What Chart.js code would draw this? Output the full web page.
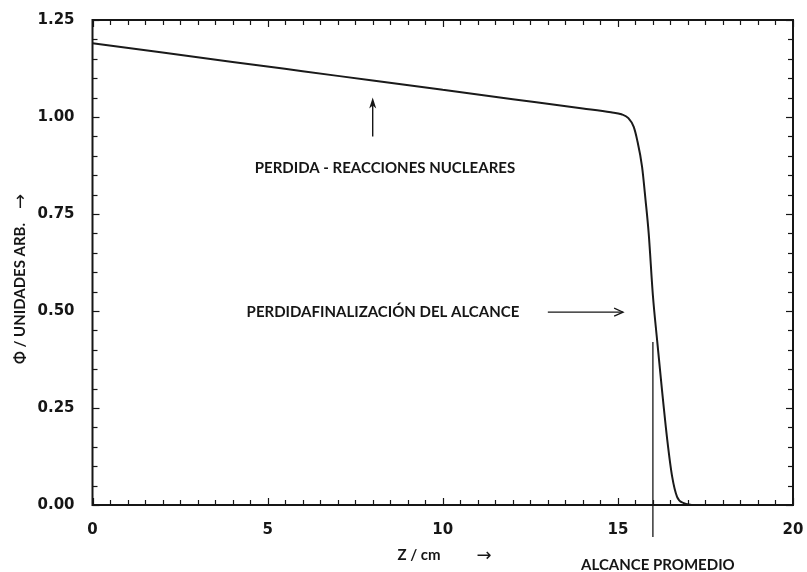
<!DOCTYPE html>
<html>
<head>
<meta charset="utf-8">
<script src="https://cdn.jsdelivr.net/npm/chart.js@4/dist/chart.umd.min.js"></script>
<style>
  html, body { margin: 0; padding: 0; background: #fff; }
  canvas { display: block; }
</style>
</head>
<body>
<canvas id="c" width="807" height="572"></canvas>
<script>
// Relative fluence of a proton beam versus depth in water
const depthCm = [0, 2, 4, 6, 8, 10, 12, 14, 14.8, 15.1, 15.3, 15.45, 15.55, 15.69, 15.79, 15.88, 16.0, 16.12, 16.26, 16.41, 16.55, 16.69, 16.88, 17.1];
const fluence = [1.19, 1.166, 1.142, 1.118, 1.094, 1.07, 1.046, 1.022, 1.012, 1.007, 0.997, 0.975, 0.941, 0.872, 0.786, 0.70, 0.54, 0.425, 0.296, 0.168, 0.073, 0.021, 0.005, 0];

const xTickValues = [0, 5, 10, 15, 20];
const yTickLabels = ['0.00', '0.25', '0.50', '0.75', '1.00', '1.25'];

// Mean range marker (depth, top of the marker line)
const meanRangeDepth = 16.0;
const meanRangeTop = 0.42;

// Annotation anchors in data coordinates
const nuclearArrow = { z: 8.0, from: 0.95, to: 1.05 };
const nuclearLabel = { z: 8.35, phi: 0.868, text: 'PERDIDA - REACCIONES NUCLEARES' };
const endArrow = { phi: 0.497, from: 13.0, to: 15.15 };
const endLabel = { z: 4.4, phi: 0.497, text: 'PERDIDAFINALIZACIÓN DEL ALCANCE' };
const rangeLabel = 'ALCANCE PROMEDIO';
const xTitle = 'Z / cm';
const yTitle = 'Φ / UNIDADES ARB.';

const points = depthCm.map((z, i) => ({ x: z, y: fluence[i] }));

const LABEL_FONT = 'bold 15px Lato, "Open Sans", sans-serif';
const INK = '#161616';

function line(ctx, x1, y1, x2, y2) {
  ctx.beginPath(); ctx.moveTo(x1, y1); ctx.lineTo(x2, y2); ctx.stroke();
}

function noScalePadding(s) {
  s.paddingTop = 0; s.paddingBottom = 0; s.paddingLeft = 0; s.paddingRight = 0;
}

const framePlugin = {
  id: 'frame',
  afterDraw(chart) {
    const { ctx, chartArea: a, scales: { x, y } } = chart;
    ctx.save();
    ctx.strokeStyle = INK;
    ctx.fillStyle = INK;

    // plot box
    ctx.lineWidth = 2;
    ctx.strokeRect(a.left, a.top, a.right - a.left, a.bottom - a.top);

    // inward ticks on all four sides
    ctx.lineWidth = 1.2;
    for (let i = 0; i <= 40; i++) {
      const v = i * 0.5;
      const px = Math.round(x.getPixelForValue(v)) + 0.5;
      const len = i % 10 === 0 ? 7 : 5;
      line(ctx, px, a.bottom, px, a.bottom - len);
      line(ctx, px, a.top, px, a.top + len);
    }
    for (let i = 0; i <= 25; i++) {
      const v = i * 0.05;
      const py = Math.round(y.getPixelForValue(v)) + 0.5;
      const len = i % 5 === 0 ? 7 : 5;
      line(ctx, a.left, py, a.left + len, py);
      line(ctx, a.right, py, a.right - len, py);
    }

    // mean range marker, running below the axis
    ctx.lineWidth = 1.3;
    const mx = x.getPixelForValue(meanRangeDepth);
    line(ctx, mx, y.getPixelForValue(meanRangeTop), mx, a.bottom + 32);

    // arrow to the sloped part (nuclear reactions)
    const ax = x.getPixelForValue(nuclearArrow.z);
    const ay1 = y.getPixelForValue(nuclearArrow.from);
    const ay2 = y.getPixelForValue(nuclearArrow.to);
    ctx.lineWidth = 1.4;
    line(ctx, ax, ay1, ax, ay2 + 4);
    ctx.beginPath();
    ctx.moveTo(ax, ay2);
    ctx.lineTo(ax - 3.5, ay2 + 11);
    ctx.lineTo(ax, ay2 + 8);
    ctx.lineTo(ax + 3.5, ay2 + 11);
    ctx.closePath();
    ctx.fill();

    // arrow to the distal fall-off
    const hy = y.getPixelForValue(endArrow.phi);
    const hx1 = x.getPixelForValue(endArrow.from);
    const hx2 = x.getPixelForValue(endArrow.to);
    ctx.lineWidth = 1.2;
    line(ctx, hx1, hy, hx2, hy);
    ctx.beginPath();
    ctx.moveTo(hx2 - 9, hy - 4);
    ctx.lineTo(hx2, hy);
    ctx.lineTo(hx2 - 9, hy + 4);
    ctx.stroke();

    // annotation texts
    ctx.font = LABEL_FONT;
    ctx.textBaseline = 'middle';
    ctx.textAlign = 'center';
    ctx.fillText(nuclearLabel.text, x.getPixelForValue(nuclearLabel.z), y.getPixelForValue(nuclearLabel.phi));
    ctx.textAlign = 'left';
    ctx.fillText(endLabel.text, x.getPixelForValue(endLabel.z), y.getPixelForValue(endLabel.phi));
    ctx.textAlign = 'center';
    ctx.fillText(rangeLabel, mx + 5, a.bottom + 60);

    // x axis title with arrow
    ctx.textAlign = 'left';
    ctx.fillText(xTitle, a.left + 305, a.bottom + 50);
    ctx.font = '18px "DejaVu Sans", sans-serif';
    ctx.fillText('→', a.left + 384, a.bottom + 51);

    // y axis title with arrow, rotated
    ctx.save();
    ctx.translate(a.left - 72, a.top + 258);
    ctx.rotate(-Math.PI / 2);
    ctx.font = LABEL_FONT;
    const tw = ctx.measureText(yTitle).width;
    const total = tw + 15 + 16;
    ctx.textAlign = 'left';
    ctx.fillText(yTitle, -total / 2, 0);
    ctx.font = '18px "DejaVu Sans", sans-serif';
    ctx.fillText('→', -total / 2 + tw + 14, 1);
    ctx.restore();

    ctx.restore();
  }
};

new Chart(document.getElementById('c'), {
  type: 'line',
  data: {
    datasets: [{
      data: points,
      borderColor: '#1a1a1a',
      borderWidth: 2,
      pointRadius: 0,
      fill: false,
      cubicInterpolationMode: 'monotone'
    }]
  },
  options: {
    responsive: false,
    animation: false,
    devicePixelRatio: 1,
    layout: { padding: { left: 0, top: 20, right: 14, bottom: 0 } },
    plugins: { legend: { display: false }, tooltip: { enabled: false } },
    scales: {
      x: {
        type: 'linear',
        min: 0, max: 20,
        afterBuildTicks: s => { s.ticks = xTickValues.map(v => ({ value: v })); },
        afterFit: s => { s.height = 67; noScalePadding(s); },
        grid: { display: false, drawTicks: false },
        border: { display: false },
        ticks: {
          padding: 16,
          color: INK,
          font: { family: '"DejaVu Sans", sans-serif', size: 15, weight: 'bold' },
          maxRotation: 0
        }
      },
      y: {
        type: 'linear',
        min: 0, max: 1.25,
        afterBuildTicks: s => { s.ticks = yTickLabels.map(t => ({ value: parseFloat(t) })); },
        afterFit: s => { s.width = 92.5; noScalePadding(s); },
        grid: { display: false, drawTicks: false },
        border: { display: false },
        ticks: {
          padding: 18,
          color: INK,
          font: { family: '"DejaVu Sans", sans-serif', size: 15, weight: 'bold' },
          callback: (v) => yTickLabels.find(t => parseFloat(t) === v) ?? ''
        }
      }
    }
  },
  plugins: [framePlugin]
});
</script>
</body>
</html>
